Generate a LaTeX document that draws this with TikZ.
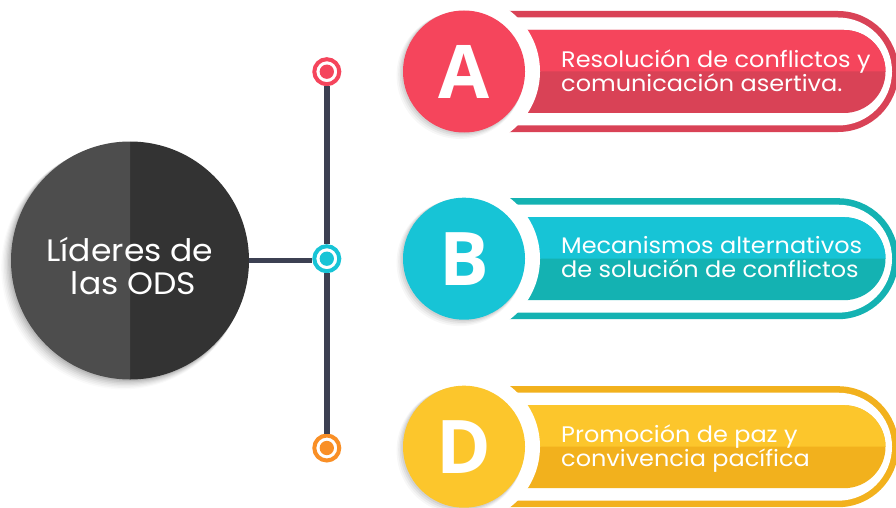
\documentclass[tikz,border=0pt]{standalone}
\usepackage{fontspec}
\setmainfont{Poppins}[FakeStretch=1.065]
\newfontfamily\badgefont{Open Sans}
\definecolor{redA}{HTML}{F5455C}\definecolor{redB}{HTML}{D94256}
\definecolor{tealA}{HTML}{17C4D6}\definecolor{tealB}{HTML}{14B2B2}
\definecolor{yelA}{HTML}{FCC62C}\definecolor{yelB}{HTML}{F2B11D}
\definecolor{orangeA}{HTML}{F98F26}
\definecolor{spine}{HTML}{3C4052}
\definecolor{HubRight}{HTML}{333333}
\definecolor{HubLeft}{HTML}{4D4D4D}
\tikzset{
  x=1pt,y=-1pt,
  letter/.style={circle,minimum size=122pt,inner sep=0pt,text=white,font=\badgefont\bfseries\fontsize{74}{74}\selectfont},
  dotring/.style={circle,minimum size=25pt,inner sep=0pt,line width=4pt,draw=#1,fill=white},
  dotcore/.style={circle,minimum size=14.3pt,inner sep=0pt,fill=#1},
  label/.style={anchor=west,align=left,text=white,inner sep=0pt,font=\fontsize{22.5}{24}\selectfont},
  hub/.style={circle,minimum size=238pt,inner sep=0pt},
  hubtext/.style={text=white,align=center,inner sep=0pt,font=\fontsize{31}{33}\selectfont},
  wire/.style={draw=spine,line cap=butt}
}
\newcommand{\badge}[7]{% name, y, light, dark, letter, text, text y
  \fill[#4] (500,#2-60.5) -- (838,#2-60.5) arc[start angle=-90,end angle=90,radius=60.5] -- (500,#2+60.5) -- cycle;
  \fill[white] (500,#2-54) -- (838,#2-54) arc[start angle=-90,end angle=90,radius=54] -- (500,#2+54) -- cycle;
  \fill[#4] (500,#2-41.5) -- (844,#2-41.5) arc[start angle=-90,end angle=90,radius=41.5] -- (500,#2+41.5) -- cycle;
  \fill[#3] (500,#2-41.5) -- (844,#2-41.5) arc[start angle=-90,end angle=0,radius=41.5] -- (500,#2) -- cycle;
  \fill[white] (464,#2) circle[radius=76];
  \foreach \s/\o in {4/.03,3/.04,2/.05,1/.06}{\fill[black,opacity=\o] (464-\s,#2+\s) circle[radius=61+\s*.6];}
  \node[letter,fill=#3] (#1) at (464,#2) {#5};
  \node[label] (#1t) at (561,#7) {#6};
}
\begin{document}
\begin{tikzpicture}
\useasboundingbox (0,0) rectangle (896,508);
\fill[white] (0,0) rectangle (896,508);
\begin{scope}
\clip (0,0) rectangle (896,508);
\badge{a}{71.5}{redA}{redB}{A}{Resolución de conflictos y\\comunicación asertiva.}{70.5}
\badge{b}{258.7}{tealA}{tealB}{B}{Mecanismos alternativos\\de solución de conflictos}{256.7}
\badge{d}{446.7}{yelA}{yelB}{D}{Promoción de paz y\\convivencia pacífica}{448.7}
\end{scope}
% hub shadow and halves
\foreach \s/\o in {7/.02,6/.03,5/.03,4/.04,3/.05,2/.06,1/.07}{\fill[black,opacity=\o] (130-\s,260.5+\s) circle[radius=119+\s*.4];}
\fill[HubRight] (130,141.5) arc[start angle=-90,end angle=90,radius=119] -- cycle;
\fill[HubLeft] (130,141.5) arc[start angle=-90,end angle=-270,radius=119] -- cycle;
\node[hub] (hub) at (130,260.5) {};
\node[hubtext] (hubt) at (130,266.5) {Líderes de\\\hspace*{7pt}las ODS};
% dots
\node[dotring=redA] (top) at (326.8,71.7) {};
\node[dotring=tealA] (mid) at (326.8,258.7) {};
\node[dotring=orangeA] (bot) at (326.8,448) {};
\draw[wire,line width=5.5pt] (top) -- (mid);
\draw[wire,line width=5.5pt] (mid) -- (bot);
\draw[wire,line width=5pt] (hub.east) -- (hub.east -| mid.west);
\node[dotcore=redA] (topc) at (top) {};
\node[dotcore=tealA] (midc) at (mid) {};
\node[dotcore=orangeA] (botc) at (bot) {};
\end{tikzpicture}
\end{document}
